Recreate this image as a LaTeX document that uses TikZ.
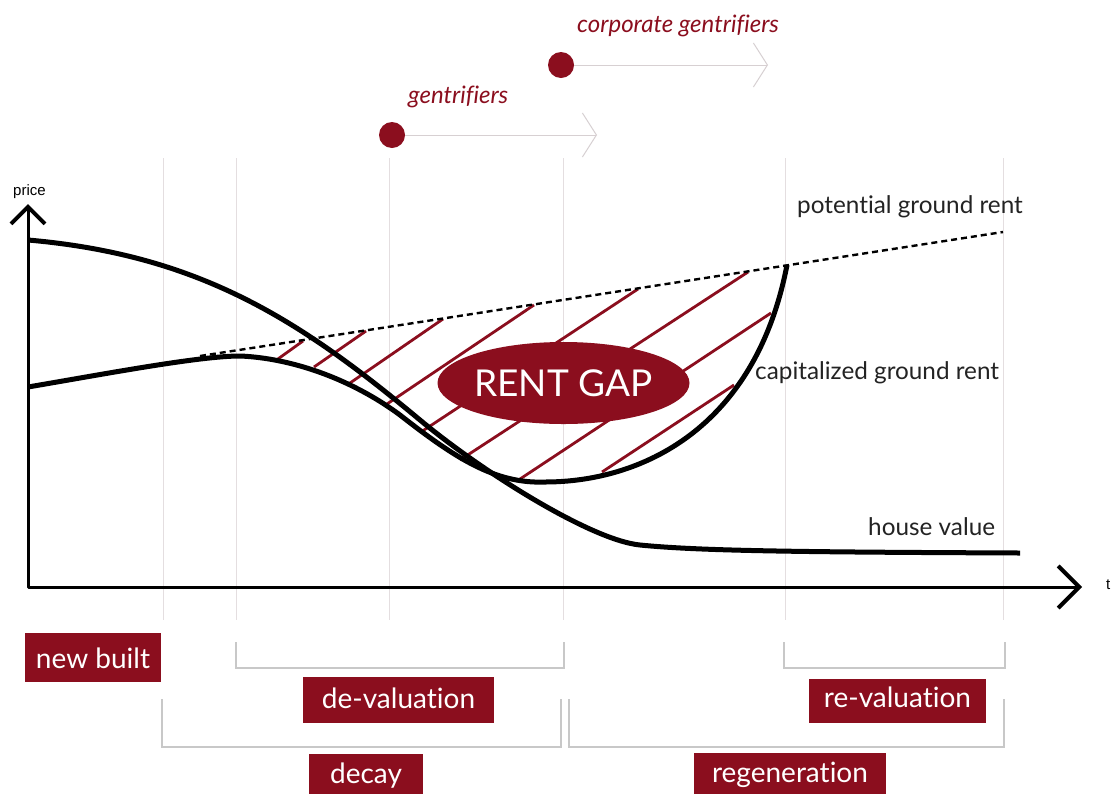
\documentclass[tikz,border=0pt]{standalone}
\usepackage{fontspec}
\setmainfont{Lato}[Ligatures=NoCommon]
\newfontfamily\helv{Liberation Sans}
\usetikzlibrary{shapes.geometric,arrows.meta}
\definecolor{rentred}{RGB}{139,14,30}
\definecolor{gridgray}{RGB}{228,222,224}
\definecolor{brkgray}{RGB}{200,200,200}
\definecolor{arrgray}{RGB}{215,208,210}
\definecolor{txtgray}{RGB}{35,35,35}
\begin{document}
\begin{tikzpicture}[x=1pt,y=-1pt,
  gridline/.style={gridgray,line width=1pt},
  bracket/.style={brkgray,line width=1.2pt},
  hatch/.style={rentred,line width=2.8pt},
  curve/.style={black,line width=5pt,line join=round},
  potline/.style={black,line width=2.4pt,dash pattern=on 6pt off 4pt},
  axisline/.style={black,line width=3pt,line join=round,
    {Straight Barb[length=17pt,width=34pt,line width=4pt]}-{Straight Barb[length=21pt,width=42pt,line width=4pt]}},
  curvelabel/.style={font=\fontsize{24.3}{28}\selectfont,inner sep=0pt,anchor=base west,text=txtgray},
  gentlabel/.style={font=\fontsize{24}{28}\selectfont\itshape,inner sep=0pt,anchor=base west,text=rentred},
  axislabel/.style={font=\helv\fontsize{15}{18}\selectfont,inner sep=0pt,anchor=base west,text=black},
  dot/.style={circle,fill=rentred,minimum size=26pt,inner sep=0pt},
  gentarrow/.style={arrgray,line width=1pt,-{Straight Barb[length=14pt,width=44pt,line width=1pt]}},
  phasebox/.style={fill=rentred,text=white,font=\fontsize{28}{32}\selectfont,inner sep=0pt,anchor=base}
]
\useasboundingbox (0,0) rectangle (1118,793);
\fill[white] (0,0) rectangle (1118,793);

% vertical guide lines
\foreach \xx in {163,236,389,563,785,1003}
  \draw[gridline] (\xx,158) -- (\xx,620);

% hatching of the rent gap
\draw[hatch] (276.5,360) -- (303,341);
\draw[hatch] (314,367) -- (366,331);
\draw[hatch] (350,383) -- (443,319);
\draw[hatch] (387,404) -- (534,305);
\draw[hatch] (421,432) -- (638,289);
\draw[hatch] (460,460) -- (748,272);
\draw[hatch] (520,479) -- (771,313);
\draw[hatch] (602,472) -- (734,385);

% potential ground rent
\draw[potline] (200,356) -- (1003,232);

% house value
\draw[curve] (28,240) .. controls (200,255) and (300,320) .. (420,420)
  .. controls (480,470) and (590,540) .. (640,545)
  .. controls (700,551) and (800,552) .. (1020,553);

% capitalized ground rent
\draw[curve] (28,387) .. controls (110,373) and (200,356) .. (240,356)
  .. controls (290,358) and (350,378) .. (400,415)
  .. controls (455,458) and (495,484) .. (545,482)
  .. controls (640,482) and (755,430) .. (787,265);

% rent gap label
\node[ellipse,fill=rentred,minimum width=233pt,minimum height=82pt,inner sep=0pt,
  text=white,font=\fontsize{37}{40}\selectfont] (gap) at (563.5,383) {RENT GAP};

% curve labels
\node[curvelabel] (pgr) at (797,213) {potential ground rent};
\node[curvelabel] (cgr) at (755,379) {capitalized ground rent};
\node[curvelabel] (hv) at (868,535) {house value};

% axes
\coordinate (orig) at (28,587);
\coordinate (ytip) at (28,204);
\coordinate (xtip) at (1082,587);
\draw[axisline] (ytip) -- (orig) -- (xtip);
\node[axislabel] (price) at (13,195) {price};
\node[axislabel] (tlab) at (1106,589) {t};

% gentrifiers
\node[dot] (g1) at (392,135) {};
\coordinate (g1tip) at (597,135);
\draw[gentarrow] (g1) -- (g1tip);
\node[gentlabel] (g1lab) at (408,103) {gentrifiers};

\node[dot] (g2) at (561,65) {};
\coordinate (g2tip) at (768,65);
\draw[gentarrow] (g2) -- (g2tip);
\node[gentlabel] (g2lab) at (577,32) {corporate gentrifiers};

% brackets
\draw[bracket] (236,642) -- (236,668) -- (564,668) -- (564,642);
\draw[bracket] (784,642) -- (784,668) -- (1005,668) -- (1005,642);
\draw[bracket] (162,699) -- (162,747) -- (561,747) -- (561,699);
\draw[bracket] (569,699) -- (569,747) -- (1004,747) -- (1004,699);

% phase boxes
\node[phasebox,minimum width=136pt,text height=35pt,text depth=14pt] (newbuilt) at (93,668) {new built};
\node[phasebox,minimum width=191pt,text height=31pt,text depth=15pt] (deval) at (398.5,708) {de-valuation};
\node[phasebox,minimum width=177pt,text height=28pt,text depth=16pt] (reval) at (897.5,707) {re-valuation};
\node[phasebox,minimum width=114pt,text height=29pt,text depth=17pt] (decay) at (366,783) {decay};
\node[phasebox,minimum width=192pt,text height=29pt,text depth=18pt] (regen) at (790,782) {regeneration};
\end{tikzpicture}
\end{document}
